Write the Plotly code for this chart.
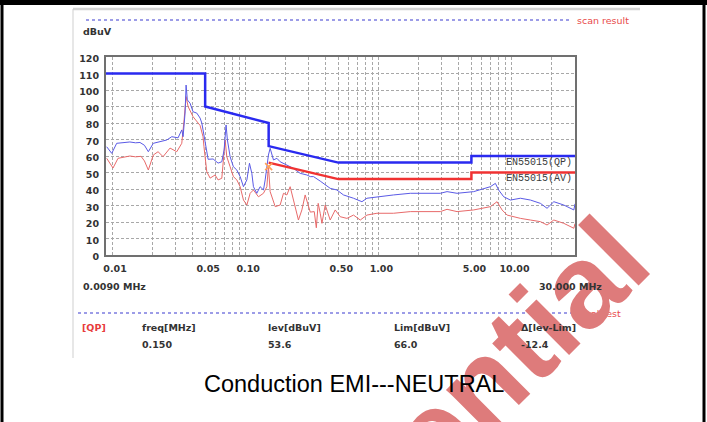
import plotly.graph_objects as go

# ---------------- data ----------------
QP_TRACE_F = [0.00911, 0.00994, 0.01083, 0.0125, 0.0136, 0.0150, 0.0162, 0.0175, 0.01872, 0.0204,
              0.0230, 0.02574, 0.02807, 0.0313, 0.03337, 0.03414, 0.03533, 0.03596, 0.03675, 0.03852,
              0.04057, 0.04327, 0.04581, 0.04719, 0.04823, 0.05084, 0.05263, 0.05738, 0.06255, 0.0667,
              0.0694, 0.0718, 0.0735, 0.077, 0.0815, 0.0865, 0.0916, 0.0970, 0.1029, 0.1076,
              0.1121, 0.1153, 0.1222, 0.1294, 0.1371, 0.1412, 0.1454, 0.1494, 0.1539, 0.163,
              0.1728, 0.183, 0.2055, 0.2304, 0.2587, 0.2906, 0.308, 0.326, 0.3658, 0.4348,
              0.4884, 0.547, 0.651, 0.753, 0.821, 0.976, 1.3, 1.738, 2.32, 2.92,
              3.28, 3.90, 5.20, 6.19, 6.94, 7.57, 8.01, 8.74, 9.82, 11.67,
              13.88, 16.5, 18.5, 20.8, 24.7, 29.4, 30.0]
QP_TRACE_V = [65.6, 61.6, 67.7, 68.3, 68.5, 68.0, 68.2, 66.5, 62.6, 67.7,
              68.5, 69.7, 71.7, 71.0, 75.8, 71.7, 86.0, 103.0, 94.0, 92.0,
              86.8, 86.0, 83.0, 80.0, 75.8, 65.6, 58.0, 58.2, 55.7, 56.5,
              63.6, 78.8, 69.7, 59.6, 53.5, 51.5, 47.5, 41.4, 45.5, 55.6,
              49.5, 41.4, 37.4, 41.4, 39.4, 45.5, 55.6, 60.6, 64.7, 57.6,
              58.6, 56.5, 54.5, 52.5, 49.5, 48.5, 47.5, 47.5, 44.8, 40.4,
              39.4, 36.4, 34.4, 32.3, 34.4, 35.3, 36.4, 37.4, 37.4, 37.4,
              38.4, 37.4, 38.4, 40.4, 41.4, 43.4, 39.4, 35.3, 33.3, 34.4,
              33.3, 31.3, 28.3, 32.3, 30.3, 27.3, 31.0]

AV_TRACE_F = [0.00911, 0.01016, 0.01108, 0.0125, 0.0136, 0.0150, 0.0165, 0.0175, 0.01872, 0.0204,
              0.02214, 0.02415, 0.02724, 0.03061, 0.03337, 0.03473, 0.03596, 0.03722, 0.04057, 0.04581,
              0.0482, 0.0490, 0.05143, 0.05448, 0.0594, 0.06255, 0.0667, 0.07065, 0.0727, 0.077,
              0.0815, 0.0865, 0.0916, 0.0970, 0.1029, 0.1089, 0.1153, 0.1257, 0.1371, 0.1454,
              0.1494, 0.1539, 0.168, 0.183, 0.1938, 0.2055, 0.2176, 0.2304, 0.251, 0.2665,
              0.282, 0.308, 0.330, 0.342, 0.3533, 0.3658, 0.377, 0.399, 0.4348, 0.474,
              0.5168, 0.5806, 0.651, 0.7314, 0.821, 0.976, 1.3, 1.738, 2.32, 2.92,
              3.28, 3.90, 5.20, 6.94, 7.79, 8.50, 9.27, 11.67, 13.88, 16.5,
              18.5, 20.8, 24.7, 29.4, 30.0]
AV_TRACE_V = [58.6, 52.7, 58.6, 59.5, 60.0, 59.5, 59.8, 57.0, 51.5, 60.6,
              62.6, 59.6, 64.8, 62.6, 67.7, 81.8, 96.0, 90.0, 83.8, 78.5,
              71.7, 65.6, 50.5, 46.6, 48.5, 45.5, 46.5, 69.7, 59.6, 53.5,
              47.5, 45.5, 41.4, 33.3, 30.3, 37.4, 39.4, 35.3, 37.4, 41.4,
              54.0, 38.4, 29.3, 30.3, 37.4, 36.4, 41.4, 33.3, 21.2, 27.3,
              36.4, 26.0, 26.3, 16.5, 31.3, 25.3, 19.2, 30.3, 21.2, 27.3,
              23.2, 22.2, 24.2, 21.2, 24.2, 25.3, 25.3, 26.3, 26.3, 26.3,
              27.7, 26.3, 27.3, 29.3, 32.3, 27.3, 24.2, 22.2, 21.2, 20.2,
              18.2, 21.2, 19.2, 16.2, 19.0]

QP_LIMIT_F = [0.009, 0.05, 0.05, 0.15, 0.15, 0.5, 5.0, 5.0, 30.0]
QP_LIMIT_V = [110, 110, 90, 80, 66, 56, 56, 60, 60]
AV_LIMIT_F = [0.15, 0.5, 5.0, 5.0, 30.0]
AV_LIMIT_V = [56, 46, 46, 50, 50]

FINAL_F = [0.150]
FINAL_V = [53.6]

X_GRID = [0.01, 0.02, 0.03, 0.04, 0.05, 0.06, 0.07, 0.08, 0.09,
          0.1, 0.2, 0.3, 0.4, 0.5, 0.6, 0.7, 0.8, 0.9,
          1, 2, 3, 4, 5, 6, 7, 8, 9, 10, 20, 30]
X_LABELS = {0.01: "0.01", 0.05: "0.05", 0.1: "0.10", 0.5: "0.50", 1: "1.00", 5: "5.00", 10: "10.00"}
Y_TICKS = list(range(0, 121, 10))

RESULT_HEAD = ["[QP]", "freq[MHz]", "lev[dBuV]", "Lim[dBuV]", "Δ[lev-Lim]"]
RESULT_VALS = ["", "0.150", "53.6", "66.0", "-12.4"]

# ---------------- layout geometry (pixels) ----------------
W, H = 707, 422
PL, PR, PT, PB = 106, 575, 57, 255


def px(x):
    return (x - PL) / (PR - PL)


def py(y):
    return (PB - y) / (PB - PT)


SMALL = dict(family="DejaVu Sans", size=9.5, color="#333333", weight="bold")

fig = go.Figure()
fig.add_trace(go.Scatter(x=AV_TRACE_F, y=AV_TRACE_V, mode="lines",
                         line=dict(color="#e86a6a", width=1), hoverinfo="skip"))
fig.add_trace(go.Scatter(x=QP_TRACE_F, y=QP_TRACE_V, mode="lines",
                         line=dict(color="#5a5ae6", width=1), hoverinfo="skip"))
fig.add_trace(go.Scatter(x=QP_LIMIT_F, y=QP_LIMIT_V, mode="lines",
                         line=dict(color="#2a2af0", width=2.5), hoverinfo="skip"))
fig.add_trace(go.Scatter(x=AV_LIMIT_F, y=AV_LIMIT_V, mode="lines",
                         line=dict(color="#f03232", width=2.5), hoverinfo="skip"))
fig.add_trace(go.Scatter(x=FINAL_F, y=FINAL_V, mode="markers",
                         marker=dict(symbol="x-thin-open", size=7, line=dict(color="#111", width=1.6)),
                         hoverinfo="skip"))

fig.update_xaxes(type="log", range=[-2.0457575, 1.4771213],
                 tickvals=X_GRID, ticktext=[X_LABELS.get(v, "") for v in X_GRID],
                 showgrid=True, gridcolor="#a8a8a8", griddash="3px,2px", gridwidth=1,
                 showline=True, mirror=True, linecolor="#707070", linewidth=2,
                 ticks="", tickfont=SMALL, ticklabelshift=3, ticklabelstandoff=4, zeroline=False)
fig.update_yaxes(range=[0, 120], tickvals=Y_TICKS,
                 showgrid=True, gridcolor="#a8a8a8", griddash="3px,2px", gridwidth=1,
                 showline=True, mirror=True, linecolor="#707070", linewidth=2,
                 ticks="", tickfont=SMALL, ticklabelstandoff=3, ticklabelshift=2, zeroline=False)

shapes = []
# outer black frame (top bar as a filled rect)
shapes.append(dict(type="rect", xref="paper", yref="paper", x0=px(-2), x1=px(W + 2), y0=py(-2), y1=py(5),
                   line=dict(width=0), fillcolor="black", layer="above"))
shapes.append(dict(type="line", xref="paper", yref="paper", x0=px(2), x1=px(2), y0=py(3), y1=py(H + 20),
                   line=dict(color="black", width=3), layer="above"))
shapes.append(dict(type="line", xref="paper", yref="paper", x0=px(704), x1=px(704), y0=py(3), y1=py(H + 20),
                   line=dict(color="black", width=3), layer="above"))
# light gray panel edges
shapes.append(dict(type="line", xref="paper", yref="paper", x0=px(73), x1=px(640), y0=py(9), y1=py(9),
                   line=dict(color="#d4d4d4", width=2.5)))
shapes.append(dict(type="line", xref="paper", yref="paper", x0=px(73), x1=px(73), y0=py(9), y1=py(358),
                   line=dict(color="#cfcfcf", width=1)))
# dotted separators
shapes.append(dict(type="line", xref="paper", yref="paper", x0=px(86), x1=px(572), y0=py(20), y1=py(20),
                   line=dict(color="#7c7ce0", width=1.5, dash="dot")))
shapes.append(dict(type="line", xref="paper", yref="paper", x0=px(78), x1=px(575), y0=py(313), y1=py(313),
                   line=dict(color="#7c7ce0", width=1.5, dash="dot")))
fig.update_layout(shapes=shapes)

anns = []


def ann(text, x, y, font, xanchor="left", yanchor="middle", **kw):
    anns.append(dict(text=text, x=px(x), y=py(y), xref="paper", yref="paper", showarrow=False,
                     xanchor=xanchor, yanchor=yanchor, font=font, **kw))


ann("final test", 577, 313, dict(family="DejaVu Sans", size=9.5, color="#e84a4a"))
# watermark
anns.append(dict(text="Confidential", x=px(386), y=py(480), xref="paper", yref="paper", showarrow=False,
                 xanchor="center", yanchor="middle", textangle=-45,
                 font=dict(family="Liberation Sans", size=118, color="#de7b7b", weight="bold")))

ann("dBuV", 81, 31, SMALL)
ann("scan result", 575, 20, dict(family="DejaVu Sans", size=9.5, color="#e84a4a"))
ann("0.0090 MHz", 81, 286, SMALL)
ann("30.000 MHz", 604, 286, SMALL, xanchor="right")
ann("EN55015(QP)", 574, 162, dict(family="Liberation Mono", size=10, color="#3c3c3c"), xanchor="right")
ann("EN55015(AV)", 574, 178, dict(family="Liberation Mono", size=10, color="#3c3c3c"), xanchor="right")

col_x = [80, 140, 266, 392, 519]
for i, (h, v) in enumerate(zip(RESULT_HEAD, RESULT_VALS)):
    f = dict(SMALL)
    if i == 0:
        f["color"] = "#e83c3c"
    ann(h, col_x[i], 327, f)
    if v:
        ann(v, col_x[i], 344, SMALL)

ann("Conduction EMI---NEUTRAL", 354, 384, dict(family="Liberation Sans", size=23.5, color="black"),
    xanchor="center")

fig.update_layout(annotations=anns)

fig.update_layout(width=W, height=H, autosize=False,
                  margin=dict(l=PL, r=W - PR, t=PT, b=H - PB, pad=0),
                  paper_bgcolor="white", plot_bgcolor="white", showlegend=False)

fig.write_html("out.html", config={"displayModeBar": False},
               post_script="document.body.style.margin='0';")
